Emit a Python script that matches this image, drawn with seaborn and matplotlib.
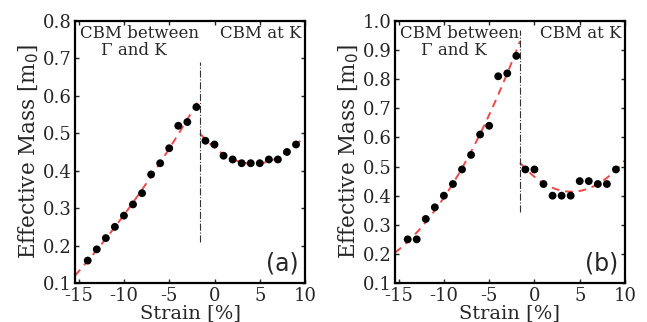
import numpy as np
import pandas as pd
import matplotlib
matplotlib.use("Agg")
import matplotlib.pyplot as plt
import seaborn as sns

# strain values (%)
strain_gk = [-14, -13, -12, -11, -10, -9, -8, -7, -6, -5, -4, -3, -2]
strain_k = [-1, 0, 1, 2, 3, 4, 5, 6, 7, 8, 9]

# panel (a) effective masses
mass_a_gk = [0.16, 0.19, 0.22, 0.25, 0.28, 0.31, 0.34, 0.39, 0.42, 0.46, 0.52, 0.53, 0.57]
mass_a_k = [0.48, 0.47, 0.44, 0.43, 0.42, 0.42, 0.42, 0.43, 0.43, 0.45, 0.47]

# panel (b) effective masses
mass_b_gk = [0.25, 0.25, 0.32, 0.36, 0.40, 0.44, 0.49, 0.54, 0.61, 0.64, 0.81, 0.82, 0.88]
mass_b_k = [0.49, 0.49, 0.44, 0.40, 0.40, 0.40, 0.45, 0.45, 0.44, 0.44, 0.49]

x_split = -1.6
x_lim = (-15.4, 10)

sns.set_theme(style="ticks")
plt.rcParams["font.family"] = ["DejaVu Serif"]

fig = plt.figure(figsize=(6.47, 3.22), dpi=100)
ax_a = fig.add_axes([0.116, 0.121, 0.3555, 0.814])
ax_b = fig.add_axes([0.6105, 0.121, 0.3555, 0.814])


def fit_curve(x, y, x0, x1):
    coef = np.polyfit(x, y, 2)
    xs = np.linspace(x0, x1, 100)
    return pd.DataFrame({"x": xs, "y": np.polyval(coef, xs)})


def draw_panel(ax, m_gk, m_k, ylim, yticks, vline, tag):
    left = fit_curve(strain_gk, m_gk, x_lim[0], x_split)
    right = fit_curve(strain_k, m_k, x_split, x_lim[1])
    for fit in (left, right):
        sns.lineplot(data=fit, x="x", y="y", ax=ax, color="#f04848",
                     linestyle=(0, (4, 3)), linewidth=1.4)
    pts = pd.DataFrame({"x": strain_gk + strain_k, "y": m_gk + m_k})
    sns.scatterplot(data=pts, x="x", y="y", ax=ax, color="black",
                    s=32, edgecolor="none", zorder=3)
    ax.plot([x_split, x_split], vline, color="#333333", linestyle="-.",
            linewidth=0.8)

    ax.set_xlim(*x_lim)
    ax.set_ylim(*ylim)
    ax.set_xticks([-15, -10, -5, 0, 5, 10])
    ax.set_xticklabels(["-15", "-10", "-5", "0", "5", "10"])
    ax.set_yticks(yticks)
    ax.set_yticklabels([f"{t:.1f}" for t in yticks])
    ax.tick_params(direction="in", length=3, width=1, labelsize=13,
                   top=True, right=True)
    ax.tick_params(axis="x", pad=3)
    ax.tick_params(axis="y", pad=2.5)
    for sp in ax.spines.values():
        sp.set_linewidth(1.6)
        sp.set_color("black")
    ax.set_xlabel("Strain [%]", fontsize=14, labelpad=-1)
    ax.set_ylabel("Effective Mass [m$_0$]", fontsize=15.5, labelpad=1)

    ax.text(0.02, 0.985, "CBM between\n    \u0393 and K", transform=ax.transAxes,
            ha="left", va="top", fontsize=12, linespacing=1.0)
    ax.text(0.985, 0.985, "CBM at K", transform=ax.transAxes,
            ha="right", va="top", fontsize=12)
    ax.text(0.97, 0.03, tag, transform=ax.transAxes, ha="right", va="bottom",
            fontsize=17, family="DejaVu Sans")


draw_panel(ax_a, mass_a_gk, mass_a_k, (0.1, 0.8),
           [0.1, 0.2, 0.3, 0.4, 0.5, 0.6, 0.7, 0.8], (0.21, 0.69), "(a)")
draw_panel(ax_b, mass_b_gk, mass_b_k, (0.1, 1.0),
           [0.1, 0.2, 0.3, 0.4, 0.5, 0.6, 0.7, 0.8, 0.9, 1.0], (0.345, 0.97), "(b)")

fig.savefig("out.png", dpi=100)
